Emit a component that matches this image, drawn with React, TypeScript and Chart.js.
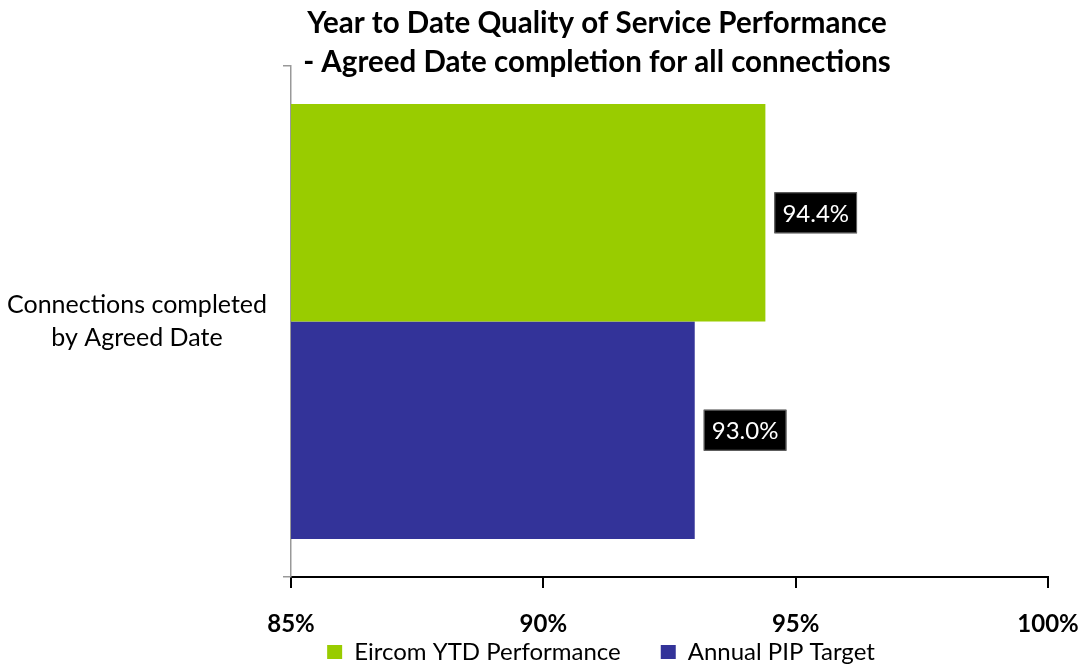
import React, { useEffect, useRef } from "react";
import { Chart, registerables } from "chart.js";

Chart.register(...registerables);

const titleLines = [
  "Year to Date Quality of Service Performance",
  "- Agreed Date completion for all connections",
];
const categories = [["Connections completed", "by Agreed Date"]];
const seriesNames = ["Eircom YTD Performance", "Annual PIP Target"];
const eircomValues = [94.4];
const targetValues = [93.0];
const seriesColors = ["#99cc00", "#333399"];
const xMin = 85;
const xMax = 100;
const xStep = 5;

const FONT = "Lato";
const LEGEND_FONT = 24;
const LEGEND_PAD = 40;

const layoutTweak = {
  id: "layoutTweak",
  afterLayout(chart: any) {
    const t = chart.titleBlock;
    if (t) {
      const dx = 597 - (t.left + t.right) / 2;
      t.left += dx;
      t.right += dx;
    }
    const l = chart.legend;
    if (l) {
      const dx = 601 - (l.left + l.right) / 2;
      l.left += dx;
      l.right += dx;
      l.top = 652 - LEGEND_FONT / 2 - LEGEND_PAD;
      l.bottom = chart.height;
      l.height = l.bottom - l.top;
    }
  },
};

const valueLabels = {
  id: "valueLabels",
  afterDatasetsDraw(chart: any) {
    const ctx = chart.ctx;
    chart.data.datasets.forEach((ds: any, di: number) => {
      const meta = chart.getDatasetMeta(di);
      meta.data.forEach((el: any, i: number) => {
        const v = ds.data[i];
        const text = v.toFixed(1) + "%";
        ctx.save();
        ctx.font = `24px ${FONT}`;
        const tw = ctx.measureText(text).width;
        const padX = 8;
        const h = 41;
        const w = tw + padX * 2;
        const x0 = el.x + 9;
        const y0 = el.y - h / 2;
        ctx.fillStyle = "#000";
        ctx.fillRect(x0, y0, w, h);
        ctx.strokeStyle = "#666";
        ctx.lineWidth = 1;
        ctx.strokeRect(x0 + 0.5, y0 + 0.5, w - 1, h - 1);
        ctx.fillStyle = "#fff";
        ctx.textAlign = "center";
        ctx.textBaseline = "middle";
        ctx.fillText(text, x0 + w / 2, el.y + 1);
        ctx.restore();
      });
    });
  },
};

export default function App() {
  const ref = useRef<HTMLCanvasElement | null>(null);
  useEffect(() => {
    if (!ref.current) return;
    Chart.defaults.font.family = FONT;
    const chart = new Chart(ref.current, {
      type: "bar",
      data: {
        labels: categories as any,
        datasets: [
          {
            label: seriesNames[0],
            data: eircomValues,
            backgroundColor: seriesColors[0],
            borderWidth: 0,
            categoryPercentage: 0.851,
            barPercentage: 1,
          },
          {
            label: seriesNames[1],
            data: targetValues,
            backgroundColor: seriesColors[1],
            borderWidth: 0,
            categoryPercentage: 0.851,
            barPercentage: 1,
          },
        ],
      },
      options: {
        indexAxis: "y",
        animation: false,
        responsive: false,
        layout: { padding: { left: 0, right: 43, top: 0, bottom: 0 } },
        plugins: {
          title: {
            display: true,
            text: titleLines,
            color: "#000",
            font: { size: 29.5, weight: "bold", lineHeight: 39 / 29.5 },
            padding: { top: 4, bottom: -16 },
          },
          legend: {
            display: true,
            position: "bottom",
            maxHeight: 25,
            labels: {
              color: "#000",
              font: { size: LEGEND_FONT },
              boxWidth: 15,
              boxHeight: 14,
              padding: LEGEND_PAD,
            },
          },
          tooltip: { enabled: false },
        },
        scales: {
          x: {
            type: "linear",
            min: xMin,
            max: xMax,
            ticks: {
              stepSize: xStep,
              color: "#000",
              font: { size: 24, weight: "bold", lineHeight: 68 / 24 },
              padding: 2,
              callback: (v: any) => v + "%",
            },
            grid: {
              drawOnChartArea: false,
              drawTicks: true,
              tickLength: 11,
              color: "#000",
              lineWidth: 2,
            },
            border: { display: true, color: "#000", width: 2 },
            afterFit: (s: any) => {
              s.height = 64;
            },
          },
          y: {
            ticks: {
              color: "#000",
              font: { size: 25, lineHeight: 33 / 25 },
              crossAlign: "center",
              padding: 16,
            },
            grid: {
              drawOnChartArea: false,
              drawTicks: true,
              tickLength: 8,
              color: "#999",
              lineWidth: 1.5,
            },
            border: { display: true, color: "#999", width: 1.5 },
            afterFit: (s: any) => {
              s.width = 291;
            },
          },
        },
      },
      plugins: [layoutTweak, valueLabels],
    });
    return () => chart.destroy();
  }, []);
  return (
    <div style={{ position: "fixed", left: 0, top: 0, width: 1091, height: 666, background: "#fff" }}>
      <canvas ref={ref} width={1091} height={666} style={{ width: 1091, height: 666, display: "block" }} />
    </div>
  );
}
